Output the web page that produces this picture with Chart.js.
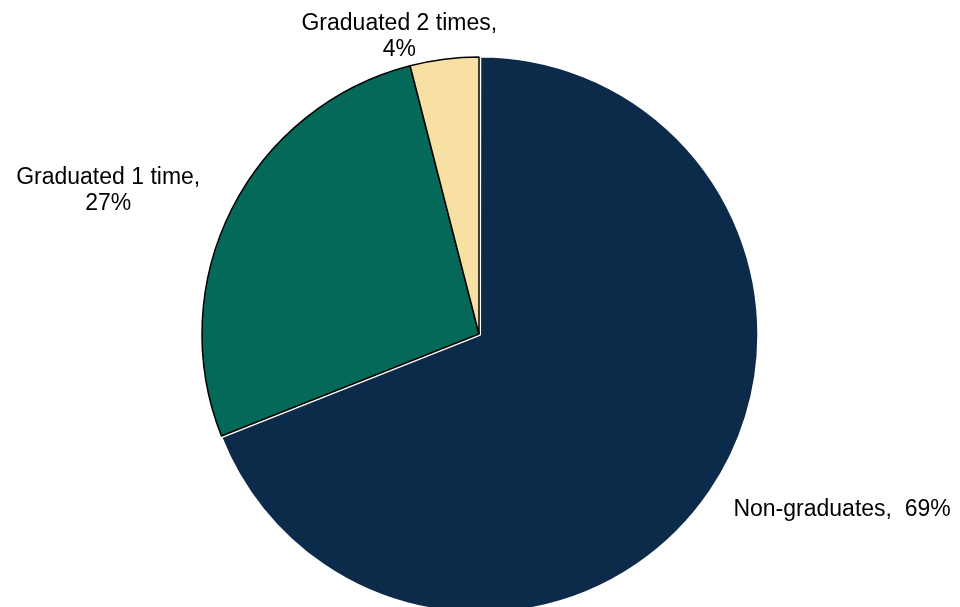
<!DOCTYPE html>
<html>
<head>
<meta charset="utf-8">
<script src="https://cdn.jsdelivr.net/npm/chart.js@4/dist/chart.umd.min.js"></script>
<style>
  html, body { margin: 0; padding: 0; background: #ffffff; overflow: hidden; width: 960px; height: 607px; }
  #wrap { position: absolute; left: 0; top: 0; width: 958px; height: 668px; }
</style>
</head>
<body>
<div id="wrap"><canvas id="c" width="958" height="668"></canvas></div>
<script>
// ---- data ----
const categories = ["Non-graduates", "Graduated 1 time", "Graduated 2 times"];
const values = [69, 27, 4];
const labelLines = [
  ["Non-graduates,  69%"],
  ["Graduated 1 time,", "27%"],
  ["Graduated 2 times,", "4%"]
];

// ---- styles ----
const colors = ["#0C2A4A", "#05695A", "#F8E0A4"];
const borderColors = ["#FFFFFF", "#000000", "#000000"];
const borderWidths = [2, 1.5, 1.5];
const offsets = [5, 0, 0];
const labelShift = [ { dx: 134, dy: 20 }, { dx: -124, dy: -18 }, { dx: -45, dy: -23 } ];
const FONT = '23px "Liberation Sans", Arial, sans-serif';
const LINE_H = 26;

const labelPlugin = {
  id: 'pieLabels',
  afterDatasetsDraw(chart) {
    const ctx = chart.ctx;
    const meta = chart.getDatasetMeta(0);
    ctx.save();
    ctx.font = FONT;
    ctx.fillStyle = '#000000';
    ctx.textAlign = 'center';
    ctx.textBaseline = 'middle';
    meta.data.forEach((arc, i) => {
      const p = arc.getProps(['x', 'y', 'startAngle', 'endAngle', 'outerRadius'], true);
      const mid = (p.startAngle + p.endAngle) / 2;
      const ax = p.x + Math.cos(mid) * p.outerRadius + labelShift[i].dx;
      const ay = p.y + Math.sin(mid) * p.outerRadius + labelShift[i].dy;
      const lines = labelLines[i];
      const y0 = ay - (lines.length - 1) * LINE_H / 2;
      lines.forEach((t, k) => ctx.fillText(t, ax, y0 + k * LINE_H));
    });
    ctx.restore();
  }
};

new Chart(document.getElementById('c'), {
  type: 'pie',
  data: {
    labels: categories,
    datasets: [{
      data: values,
      backgroundColor: colors,
      borderColor: borderColors,
      borderWidth: borderWidths,
      offset: offsets
    }]
  },
  options: {
    responsive: false,
    animation: false,
    radius: 277,
    layout: { padding: 0 },
    plugins: { legend: { display: false }, tooltip: { enabled: false } }
  },
  plugins: [labelPlugin]
});
</script>
</body>
</html>
